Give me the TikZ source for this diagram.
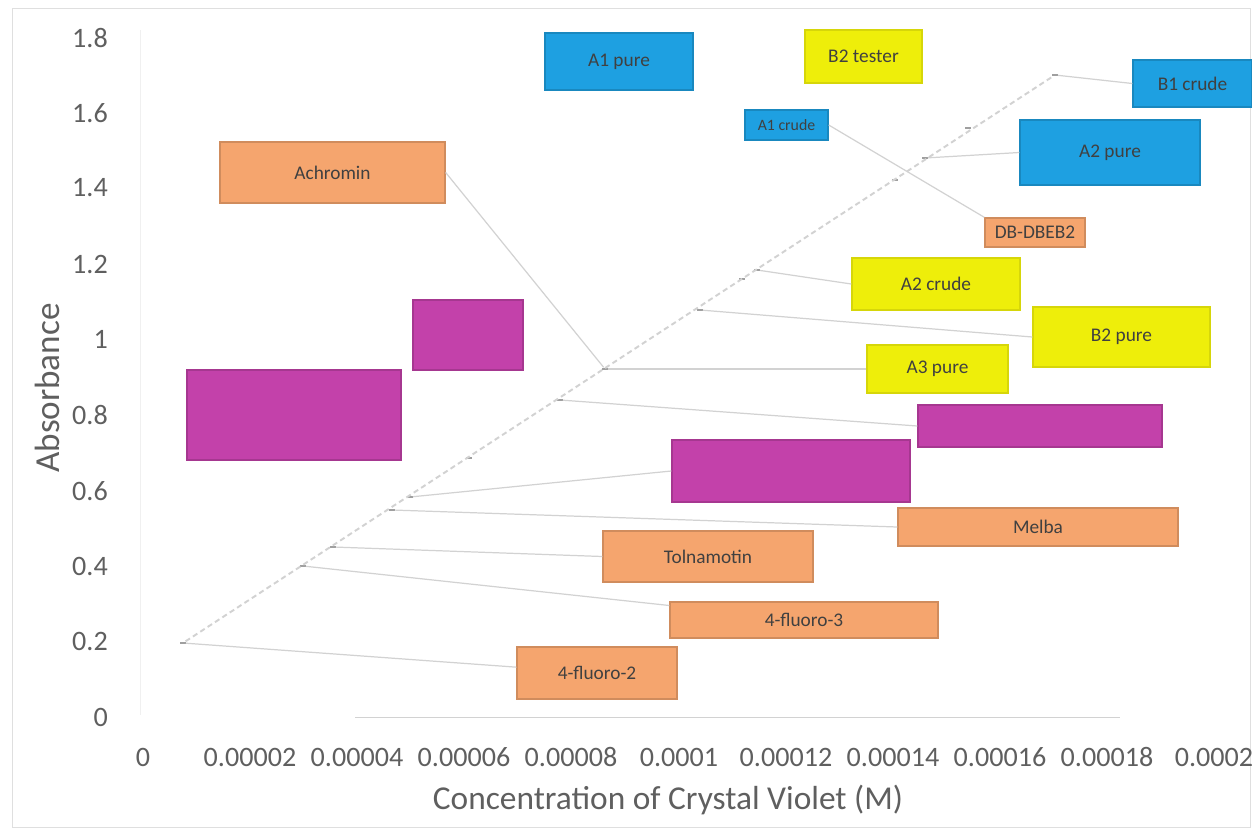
\documentclass[tikz,border=0pt]{standalone}
\usepackage{fontspec}
\setmainfont{Carlito}
\usetikzlibrary{positioning}
\definecolor{cvblue}{RGB}{30,160,225}
\definecolor{cvyellow}{RGB}{238,238,10}
\definecolor{cvorange}{RGB}{245,165,110}
\definecolor{cvmagenta}{RGB}{195,65,170}
\definecolor{axisgray}{RGB}{95,95,95}

\begin{document}
\begin{tikzpicture}[x=0.02cm,y=-0.02cm]
\tikzstyle{box}=[inner sep=0pt,line width=0.8pt,font=\fontsize{11}{13}\selectfont,text=black!75]
\tikzstyle{bluebox}=[box,fill=cvblue,draw=cvblue!85!black]
\tikzstyle{yellowbox}=[box,fill=cvyellow,draw=cvyellow!90!black]
\tikzstyle{orangebox}=[box,fill=cvorange,draw=cvorange!85!black]
\tikzstyle{magentabox}=[box,fill=cvmagenta,draw=cvmagenta!85!black]
\tikzstyle{lead}=[gray!35,line width=0.7pt]
\tikzstyle{tick}=[text=axisgray,font=\fontsize{16}{18}\selectfont]
\tikzstyle{pt}=[fill=gray!75,inner sep=0pt,minimum width=3pt,minimum height=1.5pt]

\useasboundingbox (0,0) rectangle (1252,829);
\draw[gray!25] (12,8) rectangle (1250,827);

%axes
\draw[gray!12] (140,30) -- (140,715);
\draw[gray!35] (355,717) -- (1120,717);

\node[tick,anchor=east] (y0) at (114,717) {0};
\node[tick,anchor=east] (y1) at (114,641) {0.2};
\node[tick,anchor=east] (y2) at (114,566) {0.4};
\node[tick,anchor=east] (y3) at (114,491) {0.6};
\node[tick,anchor=east] (y4) at (114,415) {0.8};
\node[tick,anchor=east] (y5) at (114,339) {1};
\node[tick,anchor=east] (y6) at (114,264) {1.2};
\node[tick,anchor=east] (y7) at (114,188) {1.4};
\node[tick,anchor=east] (y8) at (114,113) {1.6};
\node[tick,anchor=east] (y9) at (114,38) {1.8};

\node[tick] (x0) at (143,757) {0};
\node[tick] (x1) at (250,757) {0.00002};
\node[tick] (x2) at (357,757) {0.00004};
\node[tick] (x3) at (464,757) {0.00006};
\node[tick] (x4) at (571,757) {0.00008};
\node[tick] (x5) at (679,757) {0.0001};
\node[tick] (x6) at (786,757) {0.00012};
\node[tick] (x7) at (893,757) {0.00014};
\node[tick] (x8) at (1000,757) {0.00016};
\node[tick] (x9) at (1107,757) {0.00018};
\node[tick] (x10) at (1214,757) {0.0002};

\node[text=axisgray,font=\fontsize{19}{22}\selectfont] (xlabel) at (668,800) {Concentration of Crystal Violet (M)};
\node[text=axisgray,font=\fontsize{20}{24}\selectfont,rotate=90] (ylabel) at (47,388) {Absorbance};

%points
\node[pt] (p1) at (183,643) {};
\node[pt] (p2) at (303,566) {};
\node[pt] (p3) at (333,547) {};
\node[pt] (p4) at (392,510) {};
\node[pt] (p5) at (410,497) {};
\node[pt] (p6) at (469,458) {};
\node[pt] (p7) at (560,400) {};
\node[pt] (p8) at (605,369) {};
\node[pt] (p9) at (700,310) {};
\node[pt] (p10) at (742,279) {};
\node[pt] (p11) at (757,270) {};
\node[pt] (p12) at (895,180) {};
\node[pt] (p13) at (925,158) {};
\node[pt] (p14) at (968,128) {};
\node[pt] (p15) at (1055,75) {};

\draw[gray!35,densely dashed,line width=1.1pt] (p1) -- (p15);

%boxes
\node[bluebox,minimum width=2.96cm,minimum height=1.14cm] (a1pure) at (619,61.5) {A1 pure};
\node[yellowbox,minimum width=2.34cm,minimum height=1.06cm] (b2tester) at (863.5,56.5) {B2 tester};
\node[bluebox,minimum width=1.66cm,minimum height=0.6cm,font=\fontsize{9}{11}\selectfont] (a1crude) at (786.5,125) {A1 crude};
\node[bluebox,minimum width=2.38cm,minimum height=0.94cm] (b1crude) at (1192.5,83.5) {B1 crude};
\node[bluebox,minimum width=3.6cm,minimum height=1.3cm] (a2pure) at (1110,152.5) {A2 pure};
\node[orangebox,minimum width=2cm,minimum height=0.58cm] (dbox) at (1035,232.5) {DB-DBEB2};
\node[orangebox,minimum width=4.5cm,minimum height=1.22cm] (achromin) at (332.5,172.5) {Achromin};
\node[yellowbox,minimum width=3.36cm,minimum height=1.04cm] (a2crude) at (936,284) {A2 crude};
\node[yellowbox,minimum width=3.54cm,minimum height=1.2cm] (b2pure) at (1121.5,337) {B2 pure};
\node[yellowbox,minimum width=2.82cm,minimum height=0.96cm] (a3pure) at (937.5,369) {A3 pure};
\node[magentabox,minimum width=2.2cm,minimum height=1.4cm] (mag1) at (468,335) {};
\node[magentabox,minimum width=4.28cm,minimum height=1.8cm] (mag2) at (294,415) {};
\node[magentabox,minimum width=4.88cm,minimum height=0.84cm] (mag3) at (1040,426) {};
\node[magentabox,minimum width=4.76cm,minimum height=1.24cm] (mag4) at (791,471) {};
\node[orangebox,minimum width=5.6cm,minimum height=0.76cm] (melba) at (1038,527) {Melba};
\node[orangebox,minimum width=4.2cm,minimum height=1.02cm] (tolna) at (708,556.5) {Tolnamotin};
\node[orangebox,minimum width=5.36cm,minimum height=0.72cm] (fluoro3) at (804,620) {4-fluoro-3};
\node[orangebox,minimum width=3.2cm,minimum height=1.04cm] (fluoro2) at (597,673) {4-fluoro-2};

%leads
\draw[lead] (fluoro2) -- (p1);
\draw[lead] (fluoro3) -- (p2);
\draw[lead] (tolna.west) -- (p3);
\draw[lead] (melba.west) -- (p4);
\draw[lead] (mag4.west) -- (p5);
\draw[lead] (mag3.west) -- (p7);
\draw[lead] (a3pure.west) -- (p8);
\draw[lead] (achromin.east) -- (p8);
\draw[lead] (b2pure.west) -- (p9);
\draw[lead] (a2crude.west) -- (p11);
\draw[lead] (a2pure.west) -- (p13);
\draw[lead] (b1crude.west) -- (p15);
\draw[lead] (a1crude.east) -- (dbox.north west);

\end{tikzpicture}
\end{document}
